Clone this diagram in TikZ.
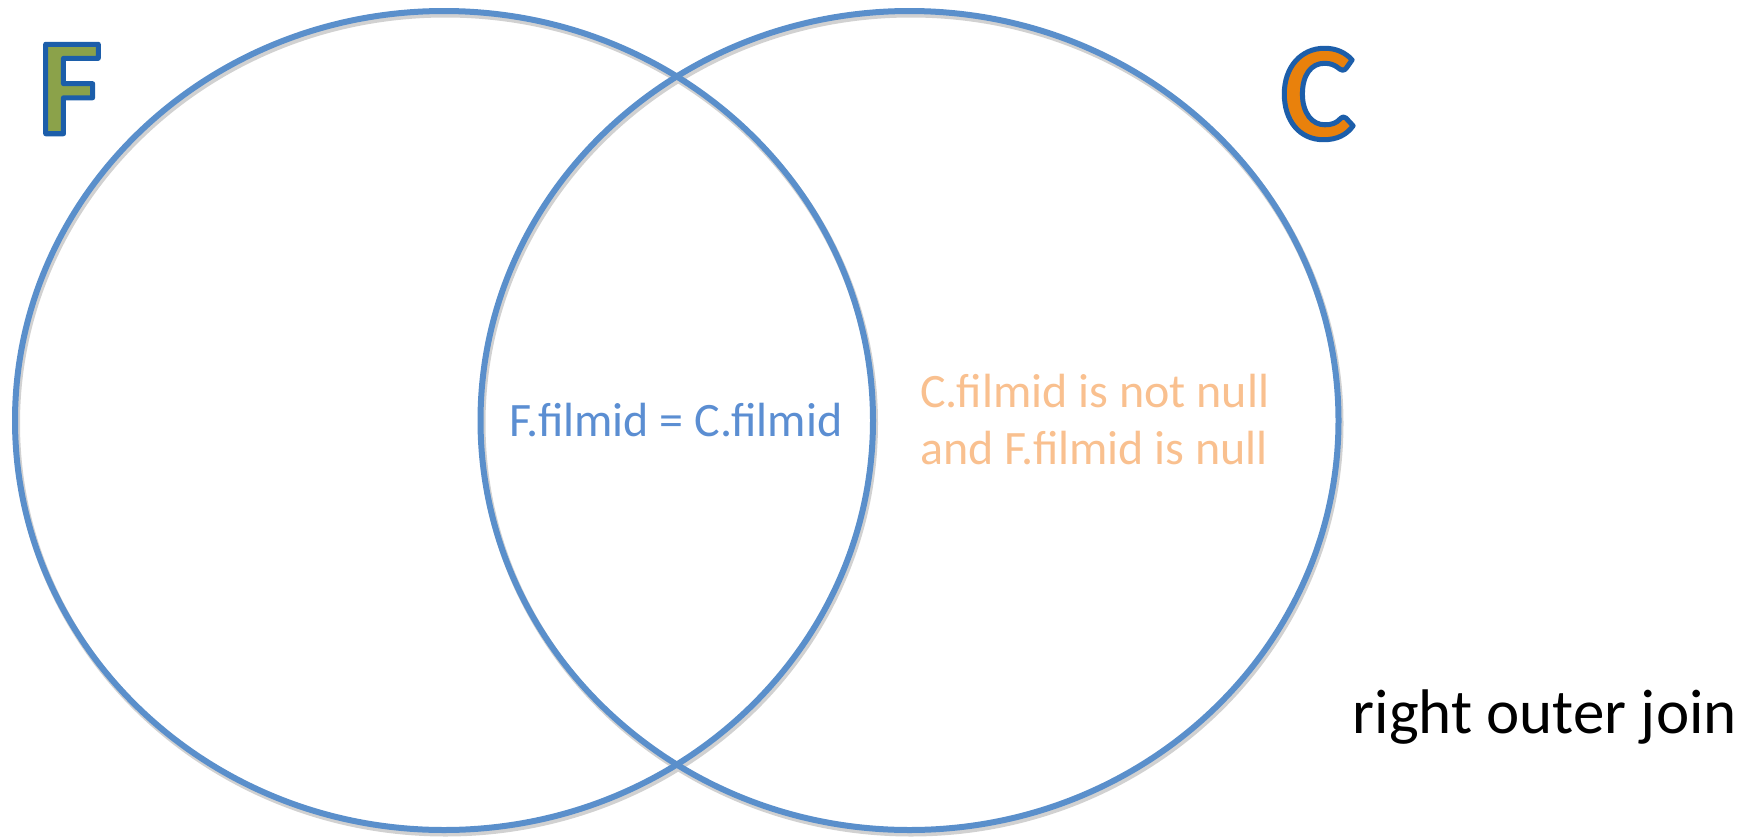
\documentclass[tikz,border=0pt]{standalone}
\usepackage{fontspec}
\setmainfont{Carlito}
\usetikzlibrary{shapes.geometric}
\definecolor{ringblue}{HTML}{5A8FCB}
\definecolor{innerblue}{HTML}{5B8ED2}
\definecolor{softorange}{HTML}{F9C08F}
\definecolor{fgreen}{HTML}{8BA24A}
\definecolor{corange}{HTML}{E9810C}
\definecolor{outblue}{HTML}{1C5EAA}
\newcommand{\outlined}[1]{\special{pdf:literal direct 2 Tr 5 w 1 j 0.110 0.369 0.667 RG}#1\special{pdf:literal direct 0 Tr 1 w}}
\tikzset{
  ring/.style={draw=ringblue, line width=6pt, ellipse, minimum width=858pt, minimum height=819pt, inner sep=0pt},
  ringshadow/.style={draw=black!18, line width=7pt, ellipse, minimum width=858pt, minimum height=819pt, inner sep=0pt},
  bigletter/.style={font=\fontsize{138}{138}\selectfont\bfseries, inner sep=0pt},
  lbl/.style={font=\fontsize{48}{57}\selectfont, inner sep=0pt}
}
\begin{document}
\begin{tikzpicture}[x=1pt,y=-1pt]
\useasboundingbox (0,0) rectangle (1756,839);
% shadows
\node[ringshadow] (Fsh) at (445.5,423.5) {};
\node[ringshadow] (Csh) at (911,423.5) {};
% rings
\node[ring] (Fring) at (444,420.5) {};
\node[ring] (Cring) at (909.5,420.5) {};
% big letters with outline
\node[bigletter, text=fgreen] (F) at (70,89) {\outlined{F}};
\node[bigletter, text=corange] (C) at (1318,94) {\outlined{C}};
% labels
\node[lbl, text=innerblue] (inner) at (676,420) {F.filmid = C.filmid};
\node[lbl, text=softorange, align=left, anchor=west] (right) at (920,420) {C.filmid is not null\\and F.filmid is null};
\node[font=\fontsize{63}{63}\selectfont, inner sep=0pt, anchor=east] (join) at (1737,717) {right outer join};
\end{tikzpicture}
\end{document}
